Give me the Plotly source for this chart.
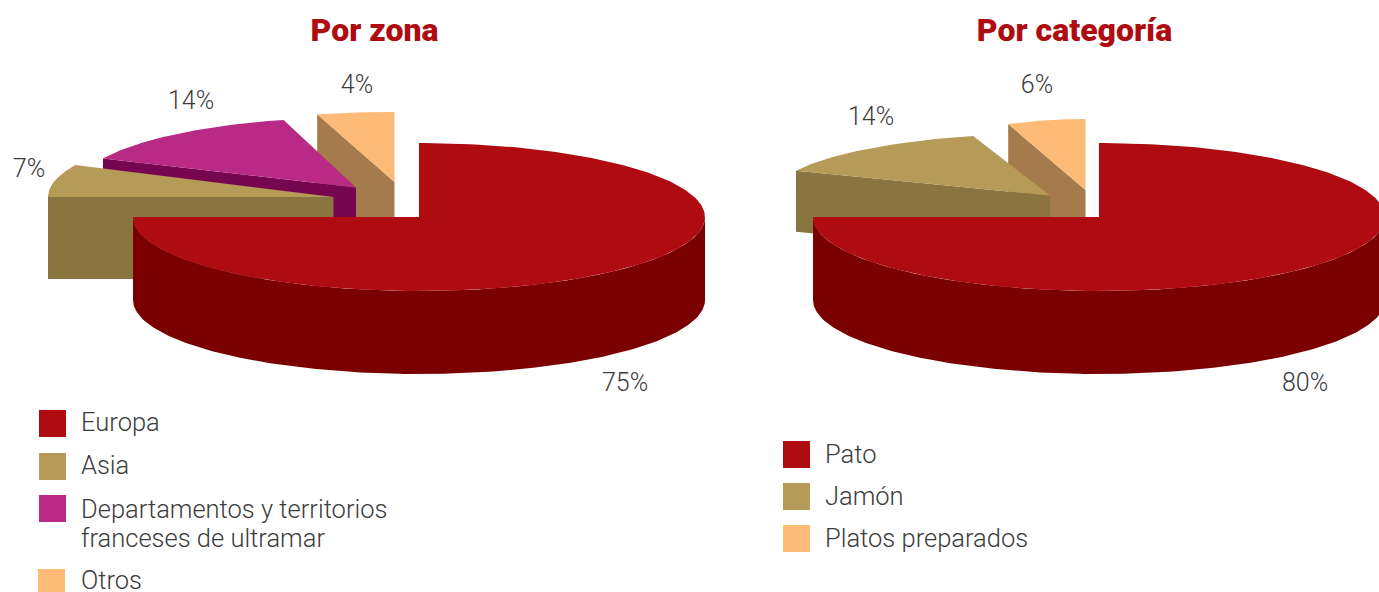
import math
import plotly.graph_objects as go

# ---- data ----
zona_labels = ["Europa", "Asia", "Departamentos y territorios<br>franceses de ultramar", "Otros"]
zona_values = [75, 7, 14, 4]
cat_labels = ["Pato", "Jamón", "Platos preparados"]
cat_values = [80, 14, 6]
titles = ["Por zona", "Por categoría"]

# ---- styles ----
RED, RED_DK = "#AF0C12", "#7B0000"
TAN, TAN_DK = "#B59B57", "#8A743F"
PUR, PUR_DK = "#B82A83", "#760650"
ORA, ORA_DK = "#FDBB77", "#A57B4D"
FONT = "Roboto"
TXT = "#3C3C3C"

# ---- geometry: pixel-like plotting space (exploded, tilted pie) ----
MAIN_RX, MAIN_RY, MAIN_DEPTH, MAIN_CY = 286, 74, 83, 217
MAIN_SWEEP = 270  # the artwork cuts its main slice at 9 o'clock in both pies

fig = go.Figure()


def poly(xs, ys, color):
    fig.add_trace(go.Scatter(x=xs, y=ys, mode="lines", fill="toself", fillcolor=color,
                             line=dict(width=0, color=color), hoverinfo="skip", showlegend=False))


def arc(cx, cy, rx, ry, a0, a1, n=60):
    """Angles measured in degrees from 9 o'clock, growing clockwise on screen."""
    pts = [a0 + (a1 - a0) * i / n for i in range(n + 1)]
    return ([cx - rx * math.cos(math.radians(a)) for a in pts],
            [cy - ry * math.sin(math.radians(a)) for a in pts])


def side_slice(value, start, apex, rx, ry, depth, top, wall):
    """A pulled-out slice: its sweep comes from the value."""
    ax, ay = apex
    xs, ys = arc(ax, ay, rx, ry, start, start + value * 3.6)
    # front radial wall, under the start edge of the slice
    poly([xs[0], ax, ax, xs[0]], [ys[0], ay, ay + depth, ys[0] + depth], wall)
    poly([ax] + xs + [ax], [ay] + ys + [ay], top)


def main_slice(cx):
    xs, ys = arc(cx, MAIN_CY, MAIN_RX, MAIN_RY, 90, 90 + MAIN_SWEEP, n=240)
    wx, wy = arc(cx, MAIN_CY, MAIN_RX, MAIN_RY, 180, 360, n=180)
    poly(wx + wx[::-1], wy + [v + MAIN_DEPTH for v in wy[::-1]], RED_DK)
    poly([cx] + xs + [cx], [MAIN_CY] + ys + [MAIN_CY], RED)


def text(xs, ys, labels, size, pos="middle center", color=TXT, weight=300):
    fig.add_trace(go.Scatter(x=xs, y=ys, text=labels, mode="text", textposition=pos,
                             textfont=dict(family=FONT, size=size, color=color, weight=weight),
                             hoverinfo="skip", showlegend=False, cliponaxis=False))


def squares(xs, ys, colors):
    fig.add_trace(go.Scatter(x=xs, y=ys, mode="markers", hoverinfo="skip", showlegend=False,
                             cliponaxis=False,
                             marker=dict(symbol="square", size=27, color=colors, line=dict(width=0))))


# left pie, back to front
side_slice(zona_values[3], 75.6, (394.5, 182), 311, 70, 83, ORA, ORA_DK)
side_slice(zona_values[2], 24.5, (356, 187.5), 278, 70, 83, PUR, PUR_DK)
side_slice(zona_values[1], 0, (333.5, 197), 285.5, 75, 82, TAN, TAN_DK)
main_slice(419)

# right pie, back to front
side_slice(cat_values[2], 68.4, (1085.5, 190), 210, 71, 83, ORA, ORA_DK)
side_slice(cat_values[1], 23.5, (1050, 195.5), 277, 62, 61, TAN, TAN_DK)
main_slice(1099)

# value labels
text([625, 29, 191, 357], [385, 171, 103, 87], [f"{v}%" for v in zona_values], 25)
text([1305, 871, 1037], [385, 119, 87], [f"{v}%" for v in cat_values], 25)

# titles
text([374.5, 1074.5], [33, 33], titles, 32, color=RED, weight=900)

# legends (the long label is set on two rows at the artwork's tighter leading)
squares([52.5, 52.5, 52.5, 51.5], [423.5, 466.5, 508.5, 582.5], [RED, TAN, PUR, ORA])
zona_rows = [row for label in zona_labels for row in label.split("<br>")]
text([81] * 5, [425, 468, 512, 541, 582.5], zona_rows, 25.5, pos="middle right")
squares([796.5] * 3, [454.5, 496.5, 538.5], [RED, TAN, ORA])
text([825] * 3, [457, 499, 541], cat_labels, 25.5, pos="middle right")

fig.update_layout(
    width=1379, height=592, margin=dict(l=0, r=0, t=0, b=0),
    paper_bgcolor="white", plot_bgcolor="white", showlegend=False,
    xaxis=dict(range=[0, 1379], visible=False, fixedrange=True),
    yaxis=dict(range=[592, 0], visible=False, fixedrange=True),
)
fig.write_html("out.html", config={"displayModeBar": False},
               post_script="document.body.style.margin='0';")
